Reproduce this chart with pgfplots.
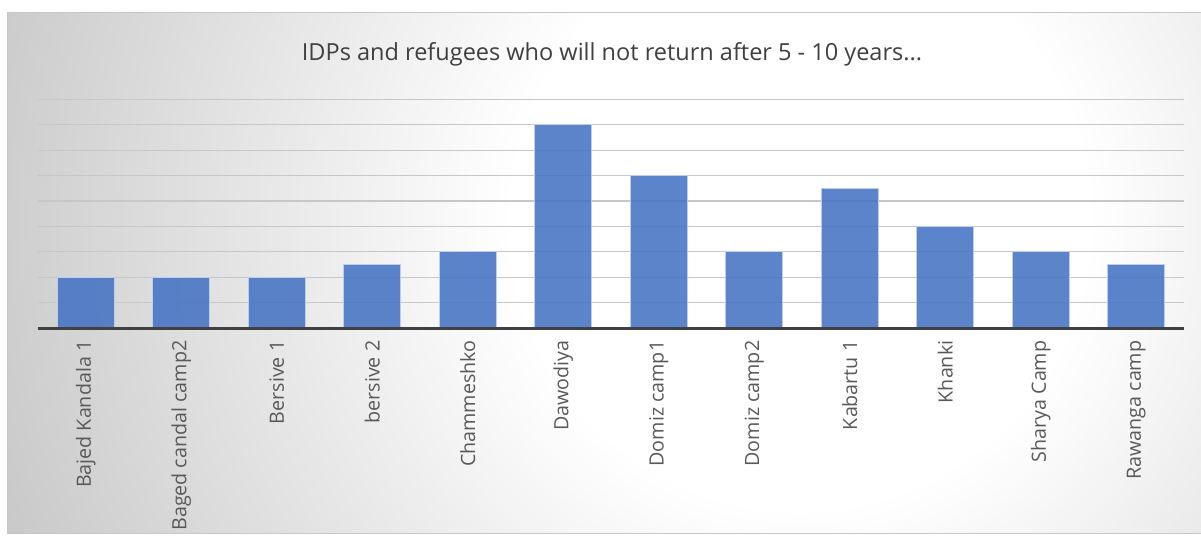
\documentclass[border=0pt]{standalone}
\usepackage{pgfplots}
\pgfplotsset{compat=1.18}
\usepackage{fontspec}
\setmainfont{Open Sans}
\definecolor{barblue}{HTML}{4472C4}
\definecolor{lbl}{HTML}{595959}
\definecolor{ttl}{HTML}{404040}
\definecolor{bggray}{HTML}{C4C4C4}
\pgfdeclareradialshading{bgshade}{\pgfpoint{0bp}{0bp}}{color(0bp)=(white); color(8bp)=(white); color(25bp)=(bggray); color(50bp)=(bggray)}
\begin{document}
\begin{tikzpicture}[x=0.75bp,y=0.75bp]
\fill[white] (0,0) rectangle (1201,535);
\begin{scope}
\clip (7,2) rectangle (1201,522);
\shade[shading=bgshade] (800,315) circle (900);
\end{scope}
\draw[black!22, line width=0.75bp] (7,2) rectangle (1201,522);
\node[font=\fontsize{17.7}{21}\selectfont, text=ttl, anchor=base] at (612,474) {IDPs and refugees who will not return after 5 - 10 years...};
\begin{axis}[
  at={(28.5bp,155.25bp)}, anchor=south west,
  scale only axis, width=859.5bp, height=171.45bp,
  xmin=-0.5, xmax=11.5, ymin=0, ymax=9,
  axis line style={draw=none},
  major tick length=0pt,
  ytick=\empty,
  xtick={0,...,11},
  xticklabels={Bajed Kandala 1, Baged candal camp2, Bersive 1, bersive 2, Chammeshko, Dawodiya, Domiz camp1, Domiz camp2, Kabartu 1, Khanki, Sharya Camp, Rawanga camp},
  xticklabel style={yshift=-6bp, rotate=90, anchor=east, font=\fontsize{14.8}{18}\selectfont, text=lbl},
  ybar, bar width=42.75bp,
  clip=false,
]
\pgfplotsinvokeforeach{1,...,9}{
  \pgfmathsetmacro{\gl}{58-4.5*(#1-1)}
  \draw[black!\gl, line width=1bp] (axis cs:-0.5,#1) -- (axis cs:11.5,#1);
}
\addplot[fill=barblue, fill opacity=0.87, draw=white!65!barblue, line width=0.75bp] coordinates {
  (0,2) (1,2) (2,2) (3,2.5) (4,3) (5,8) (6,6) (7,3) (8,5.5) (9,4) (10,3) (11,2.5)
};
\draw[ttl, line width=2.25bp] (axis cs:-0.5,0) -- (axis cs:11.5,0);
\end{axis}
\pgfresetboundingbox
\path[use as bounding box] (0,0) rectangle (1201,535);
\end{tikzpicture}
\end{document}
